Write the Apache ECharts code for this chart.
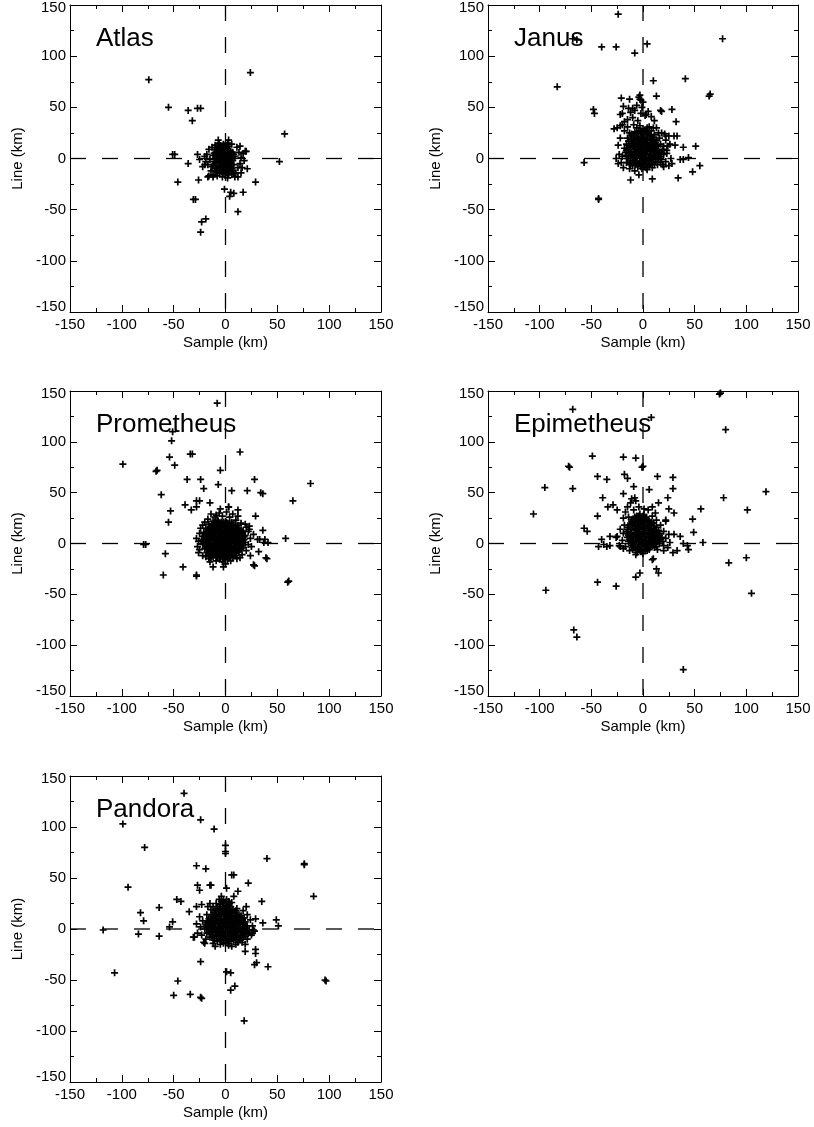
<!DOCTYPE html>
<html>
<head>
<meta charset="utf-8">
<title>Offsets</title>
<script src="https://cdn.jsdelivr.net/npm/echarts@6/dist/echarts.min.js"></script>
<style>
  html, body { margin: 0; padding: 0; background: #fff; }
  #chart { width: 814px; height: 1127px; }
</style>
</head>
<body>
<div id="chart"></div>
<script>
// Panel titles
const panelNames = ['Atlas', 'Janus', 'Prometheus', 'Epimetheus', 'Pandora'];

// Axis ticks (km)
const tickValues = [-150, -100, -50, 0, 50, 100, 150];
const axisName = { x: 'Sample (km)', y: 'Line (km)' };

// Sample / line offsets (km) for each moon
const atlas = [
  [-74,77],[24,84],[-55,50],[-36,47],[-27,49],[-24,49],[-32,37],[57,24],[-51,4],[-49,4],
  [-36,-5],[52,-3],[-46,-23],[-26,-21],[29,-23],[-31,-40],[-29,-40],[12,-52],[-19,-59],[-23,-62],
  [-24,-72],[-1,-30],[5,-33],[8,-34],[17,-33],[4,-37],[21,-10],[19,7],[14,12],[-7,18],
  [-27,4],[-25,-1],[-20,-6],[-17,-18],[-12,-18],[8,-14],[12,-18],[15,-14],
  [-8,10],[-5,12],[-2,9],[1,11],[3,8],[-10,6],[-7,5],[-4,7],[-1,4],[2,5],
  [5,3],[-9,1],[-6,2],[-3,0],[0,1],[3,-1],[6,0],[-11,-3],[-7,-2],[-4,-4],
  [-1,-3],[2,-5],[5,-4],[-9,-7],[-6,-8],[-3,-6],[0,-9],[3,-8],[6,-10],[-5,-12],
  [-2,-13],[1,-14],[4,-12],[-8,-11],[-12,3],[7,6],[-2,14],[2,15],[-6,15],[8,-6],
  [9,2],[-13,-8],[0,6],[-3,3],[-5,-1],[1,-6],[4,2],[-7,8],[-1,-11],[7,-2],
  [-7,13],[-3,11],[0,13],[3,12],[-9,9],[-5,9],[-1,8],[2,10],[5,7],[-11,5],
  [-8,3],[-5,5],[-2,2],[1,3],[4,5],[7,1],[-10,-1],[-7,0],[-4,1],[-1,-1],
  [2,0],[5,1],[-12,-6],[-9,-4],[-6,-5],[-3,-2],[0,-5],[3,-3],[6,-6],[-10,-10],
  [-7,-9],[-4,-9],[-1,-7],[2,-10],[5,-8],[-6,-14],[-3,-15],[0,-16],[3,-15],[-8,-14],
  [-4,-3],[1,-1],[-2,-7],[4,-6],[-6,11],[-2,5],[0,-12],[-9,-12],[7,-12],[8,4],
  [-16,9],[-18,4],[-15,-1],[-17,-6],[-14,-12],[-12,-16],[-8,-17],[-3,-18],[2,-19],[6,-16],
  [10,-14],[12,-9],[14,-5],[15,1],[13,6],[11,11],[6,14],[-10,13],[-13,11],[-19,-3],
  [-20,2],[17,5],[20,7],[18,-2],[-16,-17],[9,-18],[-22,-8],[3,18],[16,-9]
];

const janus = [
  [-24,141],[-68,117],[-64,116],[-40,109],[-26,109],[-8,103],[4,112],[77,117],[-83,70],[10,76],
  [41,78],[64,61],[65,63],[-48,48],[-47,44],[-57,-4],[-43,-39],[-43,-40],[51,12],[55,-7],
  [48,-13],[34,-19],[9,-20],[-12,-21],[-4,-16],[28,48],[32,36],[17,47],[18,46],[13,61],
  [11,37],[3,43],[-3,62],[-3,58],[-21,59],[-13,58],[-10,49],[-19,51],[-22,43],[-28,29],
  [-25,30],[-22,32],[33,22],[31,13],[39,11],[39,-1],[44,1],[36,-1],[22,22],[20,12],
  [-15,20],[-12,22],[-9,18],[-6,21],[-3,17],[0,20],[3,18],[6,22],[9,19],[12,16],
  [-16,14],[-13,12],[-10,15],[-7,11],[-4,13],[-1,10],[2,14],[5,11],[8,13],[11,10],[14,12],
  [-17,6],[-14,8],[-11,4],[-8,7],[-5,3],[-2,6],[1,2],[4,7],[7,4],[10,6],[13,3],[16,5],
  [-15,0],[-12,-2],[-9,1],[-6,-3],[-3,0],[0,-4],[3,-1],[6,-2],[9,1],[12,-3],[15,0],[18,-1],
  [-10,-7],[-5,-8],[1,-6],[6,-7],[-1,25],[-4,27],[2,28],[5,25],[-8,26],[-11,24],[8,27],
  [19,9],[17,14],[-18,10],[0,14],[-7,0],[3,4],[-3,9],[7,9],[20,4],[-20,2],
  [-13,25],[-9,23],[-5,24],[-2,22],[1,23],[4,21],[7,23],[10,21],[-14,17],[-11,19],
  [-8,16],[-5,15],[-2,18],[1,15],[4,16],[7,15],[10,14],[13,18],[-15,10],[-12,9],
  [-9,11],[-6,8],[-3,11],[0,7],[3,9],[6,8],[9,10],[12,7],[15,8],[18,6],
  [-16,3],[-13,5],[-10,2],[-7,4],[-4,5],[-1,3],[2,5],[5,1],[8,3],[11,2],
  [14,4],[17,2],[-13,-5],[-10,-4],[-7,-6],[-4,-5],[-1,-2],[2,-3],[5,-5],[8,-4],
  [11,-6],[14,-3],[17,-4],[-2,-8],[3,-9],[-16,-4],[0,29],[-6,30],[4,30],
  [-12,19],[-8,20],[-4,19],[0,18],[4,19],[8,18],[11,18],[-14,13],[-10,13],[-6,14],
  [-2,12],[2,12],[6,13],[10,12],[13,13],[-16,8],[-12,6],[-8,9],[-4,8],[0,9],
  [4,9],[8,8],[12,9],[15,6],[-14,2],[-10,0],[-6,1],[-2,1],[2,0],[6,0],
  [10,-1],[14,1],[-12,-6],[-8,-4],[-3,-5],[1,-8],[7,-5],[-6,25],[-2,27],[3,26],
  [-22,20],[-24,13],[-23,4],[-21,-4],[-19,-9],[-13,-10],[-8,-12],[-1,-10],[4,-11],[9,-9],
  [14,-6],[19,-6],[22,-3],[23,5],[24,12],[22,18],[25,22],[21,24],[15,25],[13,30],
  [6,31],[-3,32],[-9,33],[-15,31],[-20,33],[-18,27],[-26,0],[-24,-5],[11,23],[16,20],
  [-15,38],[-10,40],[-5,37],[-12,45],[-8,47],[-2,44],[2,42],[-18,36],[-6,52],[0,55],
  [-1,50],[5,46],[-14,49],[-20,44],[8,41],[-4,60],[-2,57],[10,30],[18,25],[23,8],
  [20,-8],[26,14],[30,22],[27,0],[28,-5],[25,-7]
];

const prometheus = [
  [-8,138],[-51,110],[-52,101],[-99,78],[-67,71],[-66,72],[-54,85],[-49,77],[-34,88],[-32,88],
  [14,90],[-5,72],[-37,63],[-24,63],[-21,54],[-7,58],[6,52],[21,52],[28,63],[34,50],
  [36,49],[82,59],[65,42],[-62,48],[-53,32],[-55,21],[-39,38],[-33,33],[-28,42],[-28,36],
  [-25,42],[-15,40],[3,36],[12,33],[29,27],[-79,-1],[-77,-1],[-58,-10],[-60,-31],[-41,-23],
  [-28,-32],[-28,-31],[-12,-23],[-2,-23],[60,-38],[61,-37],[58,5],[27,-21],[28,-22],[24,-12],
  [32,-8],[39,-14],[40,-15],[37,1],[38,4],[36,13],[31,4],[33,4],[41,1],[23,17],
  [-12,22],[-8,23],[-4,21],[0,22],[4,20],
  [-16,19],[-13,18],[-9,19],[-5,18],[-1,19],[3,18],[7,19],[10,17],
  [-19,15],[-15,14],[-11,16],[-7,15],[-3,14],[1,16],[5,15],[9,14],[13,15],
  [-21,11],[-17,12],[-14,10],[-10,11],[-6,12],[-2,10],[2,11],[6,12],[10,10],[14,11],[17,12],
  [-22,7],[-18,6],[-15,8],[-11,7],[-7,6],[-3,8],[1,7],[5,6],[9,8],[13,7],[16,6],[19,8],
  [-23,3],[-19,2],[-16,4],[-12,3],[-8,2],[-4,4],[0,3],[4,2],[8,4],[12,3],[15,2],[18,4],
  [-22,-1],[-18,-2],[-14,0],[-10,-1],[-6,-2],[-2,0],[2,-1],[6,-2],[10,0],[14,-1],[17,-2],
  [-20,-5],[-17,-6],[-13,-4],[-9,-5],[-5,-6],[-1,-4],[3,-5],[7,-6],[11,-4],[15,-5],
  [-18,-9],[-14,-10],[-10,-8],[-6,-9],[-2,-10],[2,-8],[6,-9],[10,-10],[13,-8],
  [-12,-13],[-8,-14],[-4,-12],[0,-13],[4,-14],[8,-12],
  [-10,21],[-6,20],[-2,21],[2,20],[6,21],[-14,17],[-11,18],[-7,17],[-3,16],[1,18],
  [5,17],[9,16],[12,18],[-17,14],[-13,13],[-9,13],[-5,14],[-1,12],[3,13],[7,14],
  [11,13],[15,13],[-19,10],[-16,9],[-12,9],[-8,10],[-4,9],[0,10],[4,9],[8,10],
  [12,9],[16,9],[-20,5],[-17,4],[-13,6],[-9,5],[-5,5],[-1,5],[3,5],[7,5],
  [11,5],[14,5],[17,6],[-21,1],[-16,1],[-12,0],[-8,1],[-4,1],[0,1],[4,0],
  [8,1],[12,1],[16,1],[19,1],[-19,-3],[-15,-3],[-11,-3],[-7,-4],[-3,-2],[1,-3],
  [5,-3],[9,-3],[13,-3],[17,-4],[-16,-8],[-12,-7],[-8,-7],[-4,-8],[0,-7],[4,-7],
  [8,-7],[12,-6],[-16,-12],[-10,-11],[-6,-12],[-2,-12],[2,-11],[6,-11],[10,-12],[-6,-15],
  [-2,-15],[2,-16],[-14,-14],
  [-11,20],[-7,22],[-3,19],[1,21],[5,19],[-15,16],[-9,17],[-5,16],[-1,17],[3,16],
  [7,16],[11,15],[-18,12],[-12,12],[-8,12],[-4,11],[0,12],[4,11],[8,12],[12,11],
  [16,11],[-20,8],[-14,7],[-10,8],[-6,7],[-2,7],[2,8],[6,7],[10,7],[14,8],
  [18,7],[-21,4],[-15,5],[-11,4],[-7,3],[-3,4],[1,4],[5,3],[9,5],[13,4],
  [17,3],[-20,0],[-16,-1],[-12,-2],[-8,-3],[-4,-1],[0,-1],[4,-2],[8,-2],[12,-1],
  [16,-2],[-18,-5],[-14,-6],[-10,-6],[-6,-5],[-2,-5],[2,-6],[6,-5],[10,-6],[14,-6],
  [-15,-10],[-11,-10],[-7,-11],[-3,-9],[1,-10],[5,-10],[9,-9],[-9,-13],[-5,-14],[-1,-14],
  [3,-12],[7,-14],
  [-25,10],[-26,2],[-25,-6],[-22,-12],[-16,-15],[-9,-17],[-3,-18],[5,-17],[11,-15],[16,-11],
  [20,-7],[22,-1],[24,5],[22,12],[20,16],[15,20],[10,23],[4,26],[-3,27],[-10,26],
  [-17,24],[-22,18],[-26,-9],[-24,15],[25,-3],[27,9],[-6,30],[1,31],[7,29],[-14,29],
  [-20,21],[-5,34],[12,27],[19,19],[-28,5],[-27,-3],[-19,-13],[0,-20],[14,-14],[23,14],
  [-15,-18],[-9,28],[3,36]
];

const epimetheus = [
  [74,147],[75,148],[-68,132],[8,124],[80,112],[-49,86],[-19,85],[-7,84],[-1,75],[0,76],
  [-72,76],[-71,75],[-44,66],[-35,63],[-18,68],[-15,64],[14,66],[29,65],[29,54],[-9,56],
  [6,53],[-95,55],[-68,54],[-106,29],[-39,45],[-19,49],[-11,44],[-29,38],[-34,36],[-25,33],
  [-7,42],[15,40],[24,45],[25,34],[30,30],[9,36],[12,30],[22,23],[22,22],[-44,27],
  [-57,15],[-54,12],[56,34],[48,24],[49,11],[58,1],[78,45],[101,33],[119,51],[83,-19],
  [100,-14],[105,-49],[39,-124],[-94,-46],[-67,-85],[-64,-92],[-44,-38],[-26,-42],[-7,-33],[-3,-29],
  [9,-16],[10,-15],[13,-25],[15,-29],[29,-9],[33,-7],[43,-2],[44,-6],[39,0],[36,7],
  [30,9],[20,-7],[-40,4],[-38,-1],[-35,-3],[-43,-3],[-32,7],[-25,7],[-22,-3],[-19,-5],[-32,-2],
  [-6,27],[-3,29],[1,28],
  [-10,24],[-7,25],[-4,23],[0,25],[3,24],[6,22],
  [-12,20],[-9,21],[-5,19],[-1,20],[3,21],[7,19],[10,20],
  [-14,16],[-10,17],[-6,15],[-2,16],[2,15],[6,17],[10,15],[13,16],
  [-15,12],[-11,11],[-7,13],[-3,12],[1,11],[5,13],[9,11],[13,12],[16,10],
  [-14,8],[-10,7],[-6,9],[-2,8],[2,7],[6,9],[10,7],[14,8],[18,6],
  [-13,4],[-9,3],[-5,5],[-1,4],[3,3],[7,5],[11,3],[15,4],[19,2],
  [-12,0],[-8,-1],[-4,1],[0,0],[4,-1],[8,1],[12,-1],[16,0],
  [-9,-4],[-5,-5],[-1,-3],[3,-5],[7,-3],[11,-4],
  [-8,26],[-4,27],[0,27],[3,26],[-11,22],[-8,23],[-5,22],[-2,23],[1,22],[5,23],
  [8,21],[-13,18],[-10,19],[-7,18],[-3,18],[1,18],[4,18],[8,18],[11,17],[-15,14],
  [-12,14],[-8,14],[-4,15],[0,14],[4,15],[8,14],[11,13],[15,13],[-16,10],[-12,9],
  [-8,10],[-4,10],[0,9],[4,10],[8,9],[12,9],[16,8],[-15,6],[-11,5],[-7,7],
  [-3,6],[1,6],[5,6],[9,5],[13,5],[17,4],[-14,2],[-10,1],[-6,2],[-2,2],
  [2,1],[6,2],[10,1],[14,2],[-11,-2],[-7,-3],[-3,-1],[1,-2],[5,-2],[9,-2],
  [13,-3],[-6,-7],[-2,-6],[2,-7],[6,-6],[-10,-6],
  [-18,18],[-19,10],[-20,3],[-17,-3],[-13,-7],[-6,-9],[-2,-8],[4,-7],[14,-6],[20,-2],
  [22,5],[20,12],[17,18],[13,23],[9,27],[-14,26],[-17,31],[-9,33],[-4,36],[1,34],
  [5,33],[-12,40],[-8,45],[-15,36],[-19,25],[-22,14],[-26,6],[-23,-2],[24,-4],[25,9],
  [-7,-11],[0,-10],[26,1]
];

const pandora = [
  [-40,133],[-99,103],[-24,107],[-11,98],[0,82],[0,76],[0,74],[-78,80],[-28,62],[-19,59],
  [6,53],[8,53],[40,69],[76,63],[76,64],[-94,41],[85,32],[-27,43],[-25,38],[-15,43],
  [-14,43],[1,40],[12,37],[22,45],[-47,29],[-43,27],[-64,21],[-82,16],[-79,8],[-35,17],
  [-28,22],[-23,24],[-15,25],[-12,22],[35,27],[36,6],[49,9],[51,3],[29,10],[-51,7],
  [-54,2],[-118,-1],[-84,-5],[-64,-7],[-31,-8],[-30,-8],[-20,-14],[-107,-43],[-46,-51],[-50,-65],
  [-34,-64],[-24,-67],[-23,-68],[-24,-32],[1,-42],[5,-43],[5,-60],[9,-56],[18,-90],[96,-50],
  [97,-51],[28,-35],[30,-33],[41,-37],[19,-22],[29,-20],[29,-24],[26,-4],[27,-1],[17,6],
  [-2,28],[1,29],[3,27],
  [-5,24],[-2,25],[1,23],[4,25],
  [-8,20],[-4,19],[0,21],[3,20],[7,19],
  [-11,16],[-7,15],[-3,17],[1,16],[5,15],[9,16],[13,14],
  [-14,12],[-10,11],[-6,13],[-2,12],[2,11],[6,12],[10,11],[14,12],[18,11],
  [-17,8],[-13,7],[-9,9],[-5,8],[-1,7],[3,9],[7,8],[11,7],[15,9],[19,7],
  [-19,4],[-15,3],[-11,5],[-7,4],[-3,3],[1,5],[5,4],[9,3],[13,5],[17,4],[21,3],
  [-20,0],[-16,-1],[-12,1],[-8,0],[-4,-1],[0,0],[4,1],[8,-1],[12,0],[16,-1],[20,1],[23,-1],
  [-18,-4],[-14,-5],[-10,-3],[-6,-4],[-2,-5],[2,-3],[6,-4],[10,-5],[14,-3],[18,-4],[22,-5],
  [-15,-8],[-11,-9],[-7,-7],[-3,-8],[1,-9],[5,-7],[9,-8],[13,-9],[17,-8],
  [-8,-12],[-4,-11],[0,-13],[4,-12],[8,-11],[12,-13],
  [-4,27],[0,26],[3,24],[-6,22],[-3,22],[1,20],[5,22],[-10,18],[-6,18],[-2,19],
  [2,18],[6,17],[10,18],[-13,14],[-9,13],[-5,14],[-1,15],[3,14],[7,13],[11,13],
  [15,13],[-16,10],[-12,9],[-8,10],[-4,10],[0,9],[4,10],[8,10],[12,9],[16,10],
  [-18,6],[-14,5],[-10,6],[-6,6],[-2,5],[2,6],[6,6],[10,5],[14,6],[18,5],
  [-18,2],[-14,1],[-10,2],[-6,1],[-2,2],[2,2],[6,2],[10,1],[14,1],[18,2],
  [21,-2],[-16,-3],[-12,-2],[-8,-2],[-4,-3],[0,-2],[4,-2],[8,-3],[12,-2],[16,-3],
  [20,-3],[-13,-7],[-9,-6],[-5,-6],[-1,-6],[3,-6],[7,-6],[11,-7],[15,-6],[19,-7],
  [-11,-11],[-6,-10],[-2,-10],[2,-11],[6,-10],[10,-10],[14,-11],[-2,-14],[2,-14],
  [-22,8],[-24,2],[-23,-6],[-19,-10],[-12,-14],[-5,-15],[3,-16],[10,-15],[16,-13],[21,-10],
  [25,-6],[26,3],[24,9],[21,14],[17,18],[11,20],[-14,19],[-18,14],[-25,12],[-10,-17],
  [6,-17],[19,-15],[-28,5],[-27,-4],[28,-2],[-6,29],[-9,25],[6,26],[8,32],[-4,32],
  [20,22],[-17,22],[-21,-13]
];

const panelData = [atlas, janus, prometheus, epimetheus, pandora];

// Plot box of each panel (px)
const boxes = [
  { left: 70,  top: 5,   width: 311, height: 307 },
  { left: 488, top: 5,   width: 310, height: 307 },
  { left: 70,  top: 391, width: 311, height: 305 },
  { left: 488, top: 391, width: 310, height: 305 },
  { left: 70,  top: 776, width: 311, height: 306 }
];

const FONT = 'Liberation Sans, Arial, Helvetica, sans-serif';
const INK = '#000';
const axMin = tickValues[0], axMax = tickValues[tickValues.length - 1];
const step = tickValues[1] - tickValues[0];

function baseAxis(extra) {
  return Object.assign({
    type: 'value', min: axMin, max: axMax, interval: step,
    axisLine: { show: true, onZero: false, lineStyle: { color: INK, width: 1 } },
    axisTick: { show: true, inside: true, length: 7, lineStyle: { color: INK, width: 1 } },
    minorTick: { show: true, splitNumber: 2, length: 4, lineStyle: { color: INK, width: 1 } },
    splitLine: { show: false },
    minorSplitLine: { show: false }
  }, extra);
}

const grid = [], xAxis = [], yAxis = [], series = [], title = [];

panelNames.forEach((name, i) => {
  const b = boxes[i];
  grid.push({ left: b.left, top: b.top, width: b.width, height: b.height, containLabel: false });

  // bottom (labelled) and top (ticks only) x axes
  xAxis.push(baseAxis({
    gridIndex: i, position: 'bottom',
    name: axisName.x, nameLocation: 'middle', nameGap: 23,
    nameTextStyle: { color: INK, fontSize: 15, fontFamily: FONT },
    axisLabel: { show: true, color: INK, fontSize: 15, fontFamily: FONT, margin: 5,
      showMinLabel: true, showMaxLabel: true }
  }));
  xAxis.push(baseAxis({ gridIndex: i, position: 'top', axisLabel: { show: false } }));

  // left (labelled) and right (ticks only) y axes
  yAxis.push(baseAxis({
    gridIndex: i, position: 'left',
    name: axisName.y, nameLocation: 'middle', nameGap: 45, nameRotate: 90,
    nameTextStyle: { color: INK, fontSize: 15, fontFamily: FONT },
    axisLabel: {
      show: true, color: INK, fontSize: 15, fontFamily: FONT, margin: 4,
      showMinLabel: true, showMaxLabel: true,
      formatter: v => v === axMax ? '{hi|' + v + '}' : (v === axMin ? '{lo|' + v + '}' : String(v)),
      rich: {
        hi: { fontSize: 15, fontFamily: FONT, color: INK, padding: [6, 0, 0, 0] },
        lo: { fontSize: 15, fontFamily: FONT, color: INK, padding: [0, 0, 10, 0] }
      }
    }
  }));
  yAxis.push(baseAxis({ gridIndex: i, position: 'right', axisLabel: { show: false } }));

  const xi = 2 * i, yi = 2 * i;

  // dashed cross through the origin
  series.push({
    type: 'line', xAxisIndex: xi, yAxisIndex: yi, silent: true, symbol: 'none', z: 1,
    data: [[0, axMax], [0, axMin]],
    lineStyle: { color: INK, width: 1.3, type: [16, 16] }
  });
  series.push({
    type: 'line', xAxisIndex: xi, yAxisIndex: yi, silent: true, symbol: 'none', z: 1,
    data: [[axMin, 0], [axMax, 0]],
    lineStyle: { color: INK, width: 1.3, type: [16, 16] }
  });

  // offsets as plus marks
  series.push({
    type: 'scatter', name: name, xAxisIndex: xi, yAxisIndex: yi, silent: true, z: 3,
    data: panelData[i],
    symbol: 'path://M3.5,0L3.5,7M0,3.5L7,3.5',
    symbolSize: 7,
    itemStyle: { color: 'none', borderColor: INK, borderWidth: 1.7, opacity: 1 },
    emphasis: { disabled: true },
    animation: false
  });

  title.push({
    text: name, left: b.left + 26, top: b.top + 21, padding: 0,
    textStyle: { color: INK, fontSize: 26, fontWeight: 'normal', fontFamily: FONT }
  });
});

const chart = echarts.init(document.getElementById('chart'), null, { renderer: 'canvas' });
chart.setOption({
  backgroundColor: '#fff',
  animation: false,
  title, grid, xAxis, yAxis, series
});
</script>
</body>
</html>
